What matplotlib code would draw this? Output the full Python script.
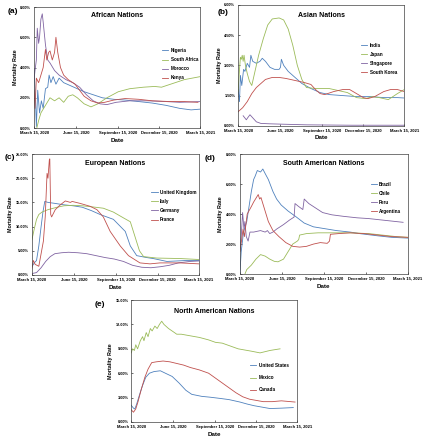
import numpy as np
import matplotlib
matplotlib.use("Agg")
import matplotlib.pyplot as plt
from matplotlib.ticker import FuncFormatter

plt.rcParams["font.family"] = ["Liberation Sans", "DejaVu Sans"]

START = np.datetime64("2020-03-15")
TICK_DAYS = [0, 92, 184, 275, 365]
TICK_LABELS = ["March 15, 2020", "June 15, 2020", "September 15, 2020",
               "December 15, 2020", "March 15, 2021"]

BLUE, GREEN, PURPLE, RED = "#4f81bd", "#9bbb59", "#8064a2", "#c0504d"

# ---- (a) African nations: days since 15 Mar 2020, mortality %
nigeria_d = [0, 3, 5, 8, 12, 16, 20, 25, 30, 33, 37, 42, 48, 55, 65, 80, 95, 110, 130, 150, 175, 200, 230, 260, 290, 320, 345, 365]
nigeria_v = [3.9, 2.0, 0.1, 2.5, 1.0, 1.8, 1.3, 2.6, 2.7, 3.5, 3.0, 3.4, 2.9, 3.3, 3.0, 2.8, 2.6, 2.4, 2.2, 2.0, 1.9, 1.85, 1.75, 1.65, 1.5, 1.3, 1.2, 1.25]
safrica_d = [6, 10, 15, 25, 35, 45, 55, 65, 75, 85, 95, 110, 125, 140, 160, 185, 210, 240, 265, 280, 300, 330, 365]
safrica_v = [0.0, 0.5, 1.0, 1.5, 2.0, 1.8, 2.0, 1.7, 2.1, 2.2, 2.0, 1.6, 1.4, 1.6, 2.0, 2.4, 2.6, 2.7, 2.75, 2.7, 2.9, 3.2, 3.4]
morocco_d = [0, 2, 5, 7, 10, 12, 15, 18, 20, 25, 30, 35, 45, 55, 70, 85, 100, 115, 130, 145, 160, 180, 210, 250, 290, 320, 365]
morocco_v = [3.2, 3.8, 4.5, 6.6, 5.6, 6.0, 7.2, 7.55, 7.0, 5.5, 4.5, 4.3, 3.8, 3.5, 3.2, 3.0, 2.7, 2.2, 1.8, 1.6, 1.55, 1.7, 1.8, 1.8, 1.75, 1.7, 1.75]
kenya_d = [0, 2, 5, 10, 15, 20, 25, 28, 32, 35, 40, 45, 48, 52, 58, 65, 75, 90, 100, 110, 125, 140, 155, 175, 200, 230, 260, 300, 330, 360]
kenya_v = [2.5, 1.3, 3.3, 3.0, 3.5, 4.0, 5.2, 4.5, 5.0, 5.1, 4.5, 5.0, 6.0, 5.0, 4.0, 3.5, 3.2, 2.9, 2.5, 2.1, 1.8, 1.65, 1.7, 1.85, 1.95, 1.9, 1.8, 1.75, 1.75, 1.7]

# ---- (b) Asian nations
india_d = [0, 3, 5, 8, 12, 15, 20, 25, 28, 32, 40, 48, 53, 60, 70, 80, 90, 93, 95, 100, 110, 125, 140, 160, 180, 200, 230, 260, 290, 320, 350, 365]
india_v = [1.8, 1.2, 2.5, 2.0, 2.8, 2.7, 3.1, 2.9, 3.5, 3.2, 3.1, 3.2, 3.35, 3.2, 2.9, 2.8, 2.8, 2.9, 3.3, 3.0, 2.7, 2.4, 2.1, 1.85, 1.65, 1.55, 1.5, 1.45, 1.45, 1.4, 1.4, 1.38]
japan_d = [0, 3, 5, 7, 9, 11, 13, 16, 20, 25, 30, 38, 45, 55, 65, 75, 90, 100, 110, 120, 130, 140, 150, 170, 200, 220, 240, 260, 280, 295, 310, 330, 350, 365]
japan_v = [1.7, 2.8, 3.4, 3.3, 3.5, 3.2, 3.5, 3.0, 2.6, 2.2, 2.0, 2.8, 3.5, 4.3, 5.0, 5.3, 5.35, 5.25, 4.8, 4.0, 3.0, 2.3, 1.9, 1.85, 1.85, 1.75, 1.65, 1.4, 1.35, 1.45, 1.4, 1.3, 1.6, 1.8]
singapore_d = [11, 18, 21, 26, 32, 40, 50, 70, 100, 150, 200, 250, 300, 365]
singapore_v = [0.5, 0.3, 0.4, 0.55, 0.4, 0.2, 0.12, 0.1, 0.08, 0.05, 0.04, 0.03, 0.03, 0.03]
skorea_d = [0, 10, 20, 30, 40, 50, 60, 75, 90, 105, 125, 145, 160, 170, 180, 190, 210, 230, 245, 260, 275, 285, 300, 320, 335, 350, 365]
skorea_v = [0.7, 0.9, 1.2, 1.6, 1.9, 2.1, 2.3, 2.4, 2.4, 2.35, 2.25, 2.15, 2.05, 1.8, 1.6, 1.55, 1.7, 1.8, 1.8, 1.6, 1.4, 1.35, 1.45, 1.7, 1.8, 1.8, 1.7]

# ---- (c) European nations
uk_d = [0, 5, 10, 15, 20, 24, 28, 35, 50, 70, 90, 110, 130, 149, 178, 204, 215, 229, 251, 265, 295, 338, 365]
uk_v = [1.7, 2.5, 3.0, 6.0, 10.0, 13.0, 15.2, 15.0, 14.8, 14.5, 14.3, 14.0, 13.3, 12.5, 11.5, 9.0, 6.0, 4.0, 3.6, 3.4, 2.8, 3.0, 3.0]
italy_d = [0, 5, 10, 15, 22, 35, 55, 70, 90, 110, 130, 156, 178, 200, 215, 225, 235, 244, 273, 324, 365]
italy_v = [7.3, 9.5, 11.5, 12.5, 13.0, 13.5, 14.0, 14.3, 14.4, 14.3, 14.1, 13.8, 13.0, 11.8, 11.0, 8.0, 5.0, 3.8, 3.5, 3.4, 3.2]
germany_d = [0, 10, 20, 30, 40, 50, 65, 80, 100, 120, 140, 160, 180, 200, 220, 240, 260, 280, 300, 320, 345, 365]
germany_v = [0.3, 0.5, 1.5, 2.8, 3.8, 4.4, 4.6, 4.7, 4.6, 4.4, 4.0, 3.6, 3.3, 2.8, 2.0, 1.6, 1.5, 1.7, 2.0, 2.5, 2.8, 2.9]
france_d = [0, 3, 7, 15, 25, 29, 33, 35, 38, 39, 41, 43, 51, 62, 73, 84, 88, 105, 127, 142, 156, 171, 193, 211, 236, 258, 280, 324, 365]
france_v = [1.4, 3.0, 2.2, 1.8, 7.0, 12.0, 21.0, 20.0, 23.8, 24.0, 12.5, 12.0, 13.5, 14.5, 15.3, 15.0, 15.2, 14.8, 14.2, 13.5, 12.0, 9.0, 6.0, 4.0, 2.5, 2.3, 2.5, 2.5, 2.3]

# ---- (d) South American nations
brazil_d = [0, 3, 8, 15, 20, 25, 30, 33, 38, 45, 50, 55, 62, 72, 80, 90, 105, 123, 140, 160, 180, 210, 240, 260, 300, 330, 365]
brazil_v = [0.0, 1.5, 2.8, 3.5, 4.5, 5.5, 6.3, 6.5, 6.9, 6.8, 7.0, 6.7, 6.3, 5.5, 5.0, 4.6, 4.2, 3.8, 3.4, 3.15, 3.05, 2.9, 2.8, 2.7, 2.55, 2.45, 2.4]
chile_d = [11, 15, 25, 35, 45, 55, 65, 75, 83, 95, 105, 115, 125, 128, 130, 145, 170, 200, 240, 280, 310, 340, 365]
chile_v = [0.0, 0.3, 0.6, 1.0, 1.3, 1.2, 1.0, 0.85, 0.82, 1.0, 1.5, 2.0, 2.2, 2.3, 2.6, 2.7, 2.75, 2.75, 2.75, 2.7, 2.6, 2.5, 2.45]
peru_d = [0, 3, 6, 9, 11, 14, 18, 22, 30, 45, 55, 60, 65, 72, 80, 95, 108, 118, 120, 128, 137, 140, 150, 165, 180, 200, 225, 255, 280, 310, 340, 355]
peru_v = [1.5, 2.5, 4.1, 3.0, 3.5, 2.5, 2.2, 2.8, 2.8, 2.9, 2.8, 2.9, 2.7, 2.8, 3.0, 3.3, 3.6, 3.8, 4.7, 4.5, 4.3, 5.0, 4.7, 4.4, 4.1, 3.95, 3.85, 3.75, 3.7, 3.6, 3.5, 3.45]
argentina_d = [0, 4, 7, 10, 12, 16, 25, 30, 40, 43, 46, 52, 62, 72, 85, 100, 115, 130, 145, 160, 175, 190, 195, 197, 215, 240, 270, 300, 330, 365]
argentina_v = [1.5, 2.3, 3.0, 2.5, 3.0, 4.0, 4.5, 4.8, 5.3, 5.0, 5.1, 4.5, 3.5, 2.9, 2.5, 2.1, 1.85, 1.8, 1.85, 2.0, 2.1, 2.05, 2.2, 2.65, 2.7, 2.75, 2.7, 2.6, 2.5, 2.45]

# ---- (e) North American nations
us_d = [0, 5, 8, 12, 18, 25, 32, 40, 50, 64, 75, 90, 105, 120, 133, 155, 173, 195, 215, 239, 255, 270, 290, 305, 330, 356]
us_v = [2.05, 1.7, 1.6, 2.2, 3.3, 4.5, 5.5, 6.0, 6.2, 6.3, 6.0, 5.6, 4.8, 3.9, 3.4, 3.15, 3.05, 2.9, 2.75, 2.45, 2.2, 2.0, 1.8, 1.65, 1.7, 1.77]
mexico_d = [0, 3, 7, 10, 14, 20, 25, 28, 33, 37, 42, 46, 52, 57, 62, 67, 72, 82, 95, 100, 110, 130, 150, 170, 185, 200, 215, 235, 265, 283, 305, 327]
mexico_v = [8.5, 9.0, 8.8, 9.5, 9.0, 10.0, 10.5, 10.0, 11.0, 10.5, 11.5, 11.2, 11.8, 11.5, 12.0, 12.4, 12.0, 11.5, 11.0, 10.8, 10.8, 10.6, 10.4, 10.1, 9.8, 9.7, 9.4, 9.0, 8.7, 8.5, 8.8, 9.0]
canada_d = [0, 5, 10, 15, 22, 30, 37, 45, 55, 70, 85, 100, 115, 130, 150, 170, 185, 200, 215, 230, 245, 260, 275, 290, 310, 330, 350, 360]
canada_v = [1.5, 1.2, 1.6, 2.5, 4.0, 5.5, 6.5, 7.3, 7.4, 7.5, 7.4, 7.2, 7.0, 6.7, 6.4, 6.0, 5.4, 4.8, 4.2, 3.6, 3.1, 2.8, 2.65, 2.5, 2.5, 2.6, 2.5, 2.45]

PANELS = [
    dict(rect=[0.080, 0.709, 0.390, 0.275], tag="(a)", tagpos=(-0.13, 0.96),
         title="African Nations", titley=0.93,
         ymax=8, ystep=2, leg=(0.755, 0.68), spacing=0.9,
         series=[("Nigeria", nigeria_d, nigeria_v, BLUE),
                 ("South Africa", safrica_d, safrica_v, GREEN),
                 ("Morocco", morocco_d, morocco_v, PURPLE),
                 ("Kenya", kenya_d, kenya_v, RED)]),
    dict(rect=[0.559, 0.714, 0.390, 0.275], tag="(b)", tagpos=(-0.09, 0.94),
         title="Asian Nations", titley=0.91,
         ymax=6, ystep=1.5, leg=(0.725, 0.707), spacing=0.9,
         series=[("India", india_d, india_v, BLUE),
                 ("Japan", japan_d, japan_v, GREEN),
                 ("Singapore", singapore_d, singapore_v, PURPLE),
                 ("South Korea", skorea_d, skorea_v, RED)]),
    dict(rect=[0.075, 0.375, 0.392, 0.275], tag="(c)", tagpos=(-0.13, 0.975),
         title="European Nations", titley=0.92,
         ymax=25, ystep=5, leg=(0.70, 0.723), spacing=0.9,
         series=[("United Kingdom", uk_d, uk_v, BLUE),
                 ("Italy", italy_d, italy_v, GREEN),
                 ("Germany", germany_d, germany_v, PURPLE),
                 ("France", france_d, france_v, RED)]),
    dict(rect=[0.563, 0.377, 0.394, 0.273], tag="(d)", tagpos=(-0.18, 0.96),
         title="South American Nations", titley=0.925,
         ymax=8, ystep=2, leg=(0.765, 0.79), spacing=0.9,
         series=[("Brazil", brazil_d, brazil_v, BLUE),
                 ("Chile", chile_d, chile_v, GREEN),
                 ("Peru", peru_d, peru_v, PURPLE),
                 ("Argentina", argentina_d, argentina_v, RED)]),
    dict(rect=[0.308, 0.041, 0.390, 0.277], tag="(e)", tagpos=(-0.19, 0.96),
         title="North American Nations", titley=0.91,
         ymax=15, ystep=3, leg=(0.70, 0.504), spacing=1.6,
         series=[("United States", us_d, us_v, BLUE),
                 ("Mexico", mexico_d, mexico_v, GREEN),
                 ("Canada", canada_d, canada_v, RED)]),
]

fig = plt.figure(figsize=(4.26, 4.40), dpi=100)

for p in PANELS:
    ax = fig.add_axes(p["rect"])
    for name, d, v, c in p["series"]:
        x = START + np.array(d).astype("timedelta64[D]")
        ax.plot(x, v, color=c, lw=0.6, label=name)

    ticks = START + np.array(TICK_DAYS).astype("timedelta64[D]")
    ax.set_xlim(START, START + np.timedelta64(365, "D"))
    ax.set_xticks(ticks)
    ax.set_xticklabels(TICK_LABELS, fontsize=3.0, fontweight="bold")
    ax.set_ylim(0, p["ymax"])
    ax.set_yticks(np.arange(0, p["ymax"] + 0.01, p["ystep"]))
    ax.yaxis.set_major_formatter(FuncFormatter(lambda v, _: f"{v:.2f}%"))
    for lab in ax.get_yticklabels():
        lab.set_fontsize(2.8)
        lab.set_fontweight("bold")
    ax.tick_params(direction="in", length=1.5, width=0.4, pad=2)
    for s in ax.spines.values():
        s.set_linewidth(0.5)
        s.set_color("#404040")

    ax.set_xlabel("Date", fontsize=4.5, fontweight="bold", labelpad=2)
    ax.set_ylabel("Mortality Rate", fontsize=3.9, fontweight="bold", labelpad=2)
    ax.text(0.5, p["titley"], p["title"], transform=ax.transAxes, ha="center",
            va="center", fontsize=5, fontweight="bold")
    ax.text(*p["tagpos"], p["tag"], transform=ax.transAxes, ha="center", va="center",
            fontsize=6, fontweight="bold")
    ax.legend(loc="upper left", bbox_to_anchor=p["leg"], frameon=False,
              prop=dict(size=3.3, weight="bold"), handlelength=1.4,
              handletextpad=0.5, labelspacing=p["spacing"], borderpad=0)

fig.savefig("out.png", dpi=100)
